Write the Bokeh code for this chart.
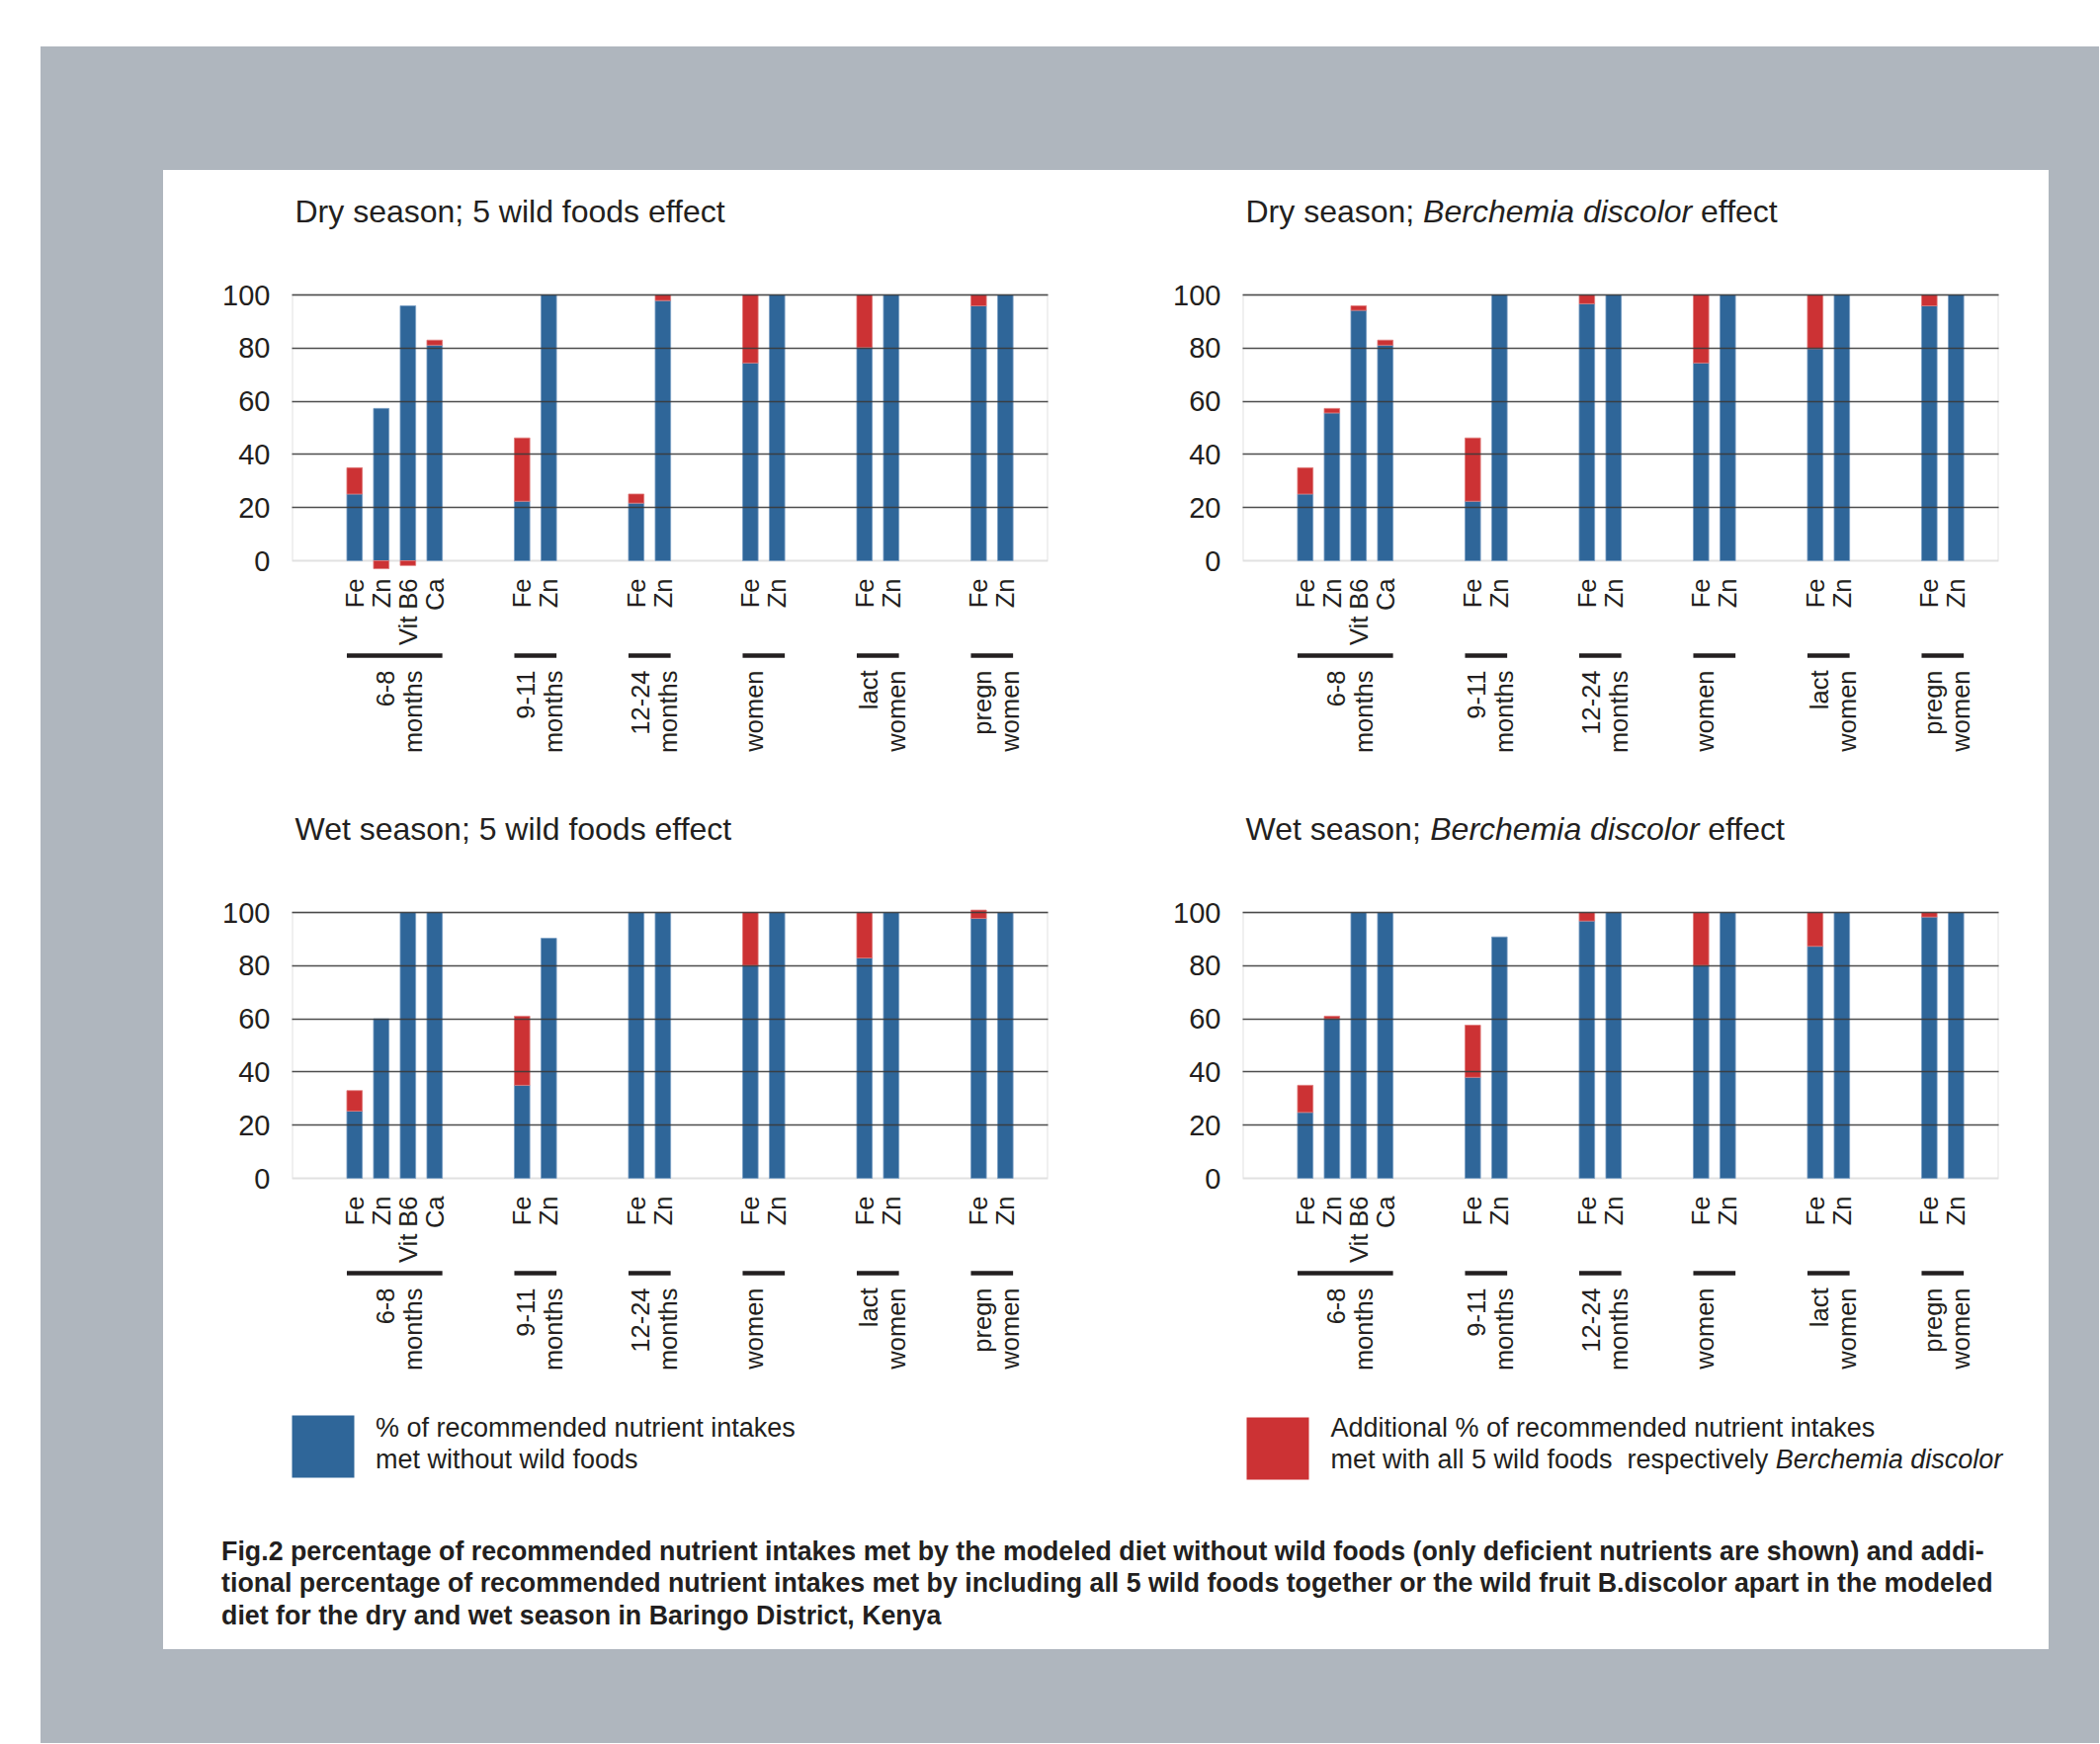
import math
from bokeh.plotting import figure
from bokeh.models import Range1d, FixedTicker, BoxAnnotation, Spacer
from bokeh.layouts import column, row
from bokeh.core.properties import value
from bokeh.embed import file_html
from bokeh.resources import INLINE

# ---------------- data ----------------
groups = ["6-8 months", "9-11 months", "12-24 months", "women", "lact women", "pregn women"]
nutrients = [["Fe", "Zn", "Vit B6", "Ca"], ["Fe", "Zn"], ["Fe", "Zn"],
             ["Fe", "Zn"], ["Fe", "Zn"], ["Fe", "Zn"]]

# % of recommended nutrient intakes met without wild foods (blue)
dry_base_5wild = [25.1, 57.3, 95.9, 81.1, 22.4, 100, 21.7, 97.9, 74.4, 100, 80.2, 100, 95.9, 100]
dry_base_bd    = [25.1, 55.6, 94.2, 81.1, 22.4, 100, 96.7, 100, 74.4, 100, 79.8, 100, 95.9, 100]
wet_base_5wild = [25.3, 60.0, 100, 100, 35.0, 90.3, 100, 100, 80.1, 100, 82.9, 100, 97.8, 100]
wet_base_bd    = [24.8, 60.0, 100, 100, 38.0, 90.8, 96.8, 100, 80.1, 100, 87.3, 100, 98.3, 100]

# additional % met with wild foods (red)
dry_add_5wild = [9.9, -3.0, -1.8, 1.9, 23.8, 0, 3.4, 2.1, 25.6, 0, 19.8, 0, 4.1, 0]
dry_add_bd    = [9.9, 1.7, 1.7, 1.9, 23.8, 0, 3.3, 0, 25.6, 0, 20.2, 0, 4.1, 0]
wet_add_5wild = [7.7, 0, 0, 0, 26.0, 0, 0, 0, 19.9, 0, 17.1, 0, 3.1, 0]
wet_add_bd    = [10.2, 1.0, 0, 0, 19.6, 0, 3.2, 0, 19.9, 0, 12.7, 0, 1.7, 0]

y_ticks = [0, 20, 40, 60, 80, 100]
grid_ticks = [20, 40, 60, 80, 100]

title_dry_5wild = [("Dry season; 5 wild foods effect", "normal")]
title_dry_bd = [("Dry season; ", "normal"), ("Berchemia discolor", "italic"), (" effect", "normal")]
title_wet_5wild = [("Wet season; 5 wild foods effect", "normal")]
title_wet_bd = [("Wet season; ", "normal"), ("Berchemia discolor", "italic"), (" effect", "normal")]

legend_base_lines = [[("% of recommended nutrient intakes", "normal")],
                     [("met without wild foods", "normal")]]
legend_add_lines = [[("Additional % of recommended nutrient intakes", "normal")],
                    [("met with all 5 wild foods", "normal"), ("  respectively ", "normal"),
                     ("Berchemia discolor", "italic")]]
caption_lines = [
    "Fig.2 percentage of recommended nutrient intakes met by the modeled diet without wild foods (only deficient nutrients are shown) and addi-",
    "tional percentage of recommended nutrient intakes met by including all 5 wild foods together or the wild fruit B.discolor apart in the modeled",
    "diet for the dry and wet season in Baringo District, Kenya",
]

# ---------------- style ----------------
FONT = "Liberation Sans"
TXT = "#231f20"
BLUE = "#2f6699"
RED = "#cc3234"
GREY = "#afb6be"

HELV = {' ': 278, '!': 278, '%': 889, '(': 333, ')': 333, ',': 278, '-': 333, '.': 278, ';': 278,
        'A': 667, 'B': 667, 'C': 722, 'D': 722, 'E': 667, 'F': 611, 'K': 667, 'W': 944,
        'a': 556, 'b': 556, 'c': 500, 'd': 556, 'e': 556, 'f': 278, 'g': 556, 'h': 556,
        'i': 222, 'j': 222, 'k': 500, 'l': 222, 'm': 833, 'n': 556, 'o': 556, 'p': 556,
        'q': 556, 'r': 333, 's': 500, 't': 278, 'u': 556, 'v': 500, 'w': 722, 'x': 500,
        'y': 500, 'z': 500}


def text_w(s, size):
    return sum(HELV.get(c, 556) for c in s) / 1000.0 * size


# layout constants (pixels)
PPU = 2.69            # px per percentage point
UNIT = 27.0           # px between bars of a group
GAP = 88.5 / UNIT     # step between groups (in bar units)
FRAME_W = 765
FIRST_PX = 63.3
BAR_W = 0.58
NUT_OFF = 18
RULE_OFF = 96
GRP_OFF = 111
LINE_DX = (-9.5, 18.5)
TITLE_DY = 85
TITLE_DX = 3
TITLE_SIZE = 32
LABEL_SIZE = 25.5


def bar_positions():
    xs, spans = [], []
    cur = -GAP
    for nuts in nutrients:
        cur += GAP
        first = cur
        for k in range(len(nuts)):
            if k:
                cur += 1
            xs.append(cur)
        spans.append((first, cur))
    return xs, spans


XS, SPANS = bar_positions()
FLAT_NUT = [n for g in nutrients for n in g]


def draw_pieces(p, x, y, parts, size, x_off=0.0, y_off=0.0):
    off = x_off
    for txt, style in parts:
        lead = len(txt) - len(txt.lstrip(" "))
        p.text(x=[x], y=[y], text=[txt.strip(" ")], x_offset=off + text_w(txt[:lead], size),
               y_offset=y_off, text_font=value(FONT), text_font_size=value(f"{size}px"),
               text_font_style=value(style), text_color=TXT,
               text_align="left", text_baseline="alphabetic")
        off += text_w(txt, size)


def make_chart(title_parts, base, add, fig_w, fig_h, border_left, top100):
    x0 = -FIRST_PX / UNIT
    x1 = x0 + FRAME_W / UNIT
    y1 = 100 + top100 / PPU
    y0 = 100 - (fig_h - top100) / PPU
    p = figure(width=fig_w, height=fig_h, x_range=Range1d(x0, x1), y_range=Range1d(y0, y1),
               output_backend="svg", toolbar_location=None, x_axis_location=None,
               min_border_left=border_left, min_border_right=fig_w - border_left - FRAME_W,
               min_border_top=0, min_border_bottom=0, outline_line_color=None,
               border_fill_color="white", background_fill_color="white")
    p.title.visible = False

    ax = p.yaxis[0]
    ax.ticker = FixedTicker(ticks=y_ticks)
    ax.axis_line_color = None
    ax.major_tick_line_color = None
    ax.minor_tick_line_color = None
    ax.major_tick_out = 0
    ax.major_tick_in = 0
    ax.major_label_standoff = 22
    ax.major_label_text_font = FONT
    ax.major_label_text_font_size = "29px"
    ax.major_label_text_color = TXT

    p.xgrid.visible = False
    p.ygrid.ticker = FixedTicker(ticks=grid_ticks)
    p.ygrid.grid_line_color = "#3a3a3a"
    p.ygrid.grid_line_width = 1.6
    p.ygrid.grid_line_alpha = 0.9
    p.ygrid.level = "annotation"

    box = BoxAnnotation(bottom=0, top=100, fill_color=None, fill_alpha=0,
                        line_color="#9a9a9a", line_width=2, level="underlay")
    p.add_layout(box)

    p.vbar(x=XS, width=BAR_W, bottom=0, top=base, fill_color=BLUE,
           line_color="#7b9fc4", line_width=1, line_alpha=0.8)

    rx, rb, rt = [], [], []
    for x, b, a in zip(XS, base, add):
        if a > 0:
            rx.append(x); rb.append(b); rt.append(b + a)
        elif a < 0:
            rx.append(x); rb.append(a); rt.append(0)
    p.vbar(x=rx, width=BAR_W, bottom=rb, top=rt, fill_color=RED,
           line_color="#e07a7a", line_width=1, line_alpha=0.8)

    # nutrient labels
    p.text(x=XS, y=[0] * len(XS), text=FLAT_NUT, angle=math.pi / 2, y_offset=NUT_OFF,
           text_align="right", text_baseline="middle", text_font=value(FONT),
           text_font_size=value(f"{LABEL_SIZE}px"), text_color=TXT)

    # group rules
    p.segment(x0=[a - BAR_W / 2 for a, b in SPANS], x1=[b + BAR_W / 2 for a, b in SPANS],
              y0=[-RULE_OFF / PPU] * len(SPANS), y1=[-RULE_OFF / PPU] * len(SPANS),
              line_color=TXT, line_width=4.5, line_cap="butt")

    # group labels (two lines)
    centers = [(a + b) / 2 for a, b in SPANS]
    for li in range(2):
        txts = []
        for g in groups:
            parts = g.split(" ", 1)
            txts.append(parts[li] if li < len(parts) else "")
        p.text(x=centers, y=[0] * len(centers), text=txts, angle=math.pi / 2,
               x_offset=LINE_DX[li], y_offset=GRP_OFF,
               text_align="right", text_baseline="middle", text_font=value(FONT),
               text_font_size=value(f"{LABEL_SIZE}px"), text_color=TXT)

    # title
    draw_pieces(p, x0, 100, title_parts, TITLE_SIZE, x_off=TITLE_DX, y_off=-TITLE_DY)
    return p


LEFT_W, RIGHT_W = 995, 913
TOP_H, BOT_H = 618, 620

fTL = make_chart(title_dry_5wild, dry_base_5wild, dry_add_5wild, LEFT_W, TOP_H, 130, 126)
fTR = make_chart(title_dry_bd, dry_base_bd, dry_add_bd, RIGHT_W, TOP_H, 97, 126)
fBL = make_chart(title_wet_5wild, wet_base_5wild, wet_add_5wild, LEFT_W, BOT_H, 130, 133)
fBR = make_chart(title_wet_bd, wet_base_bd, wet_add_bd, RIGHT_W, BOT_H, 97, 133)

# legend + caption
LEG_W, LEG_H = LEFT_W + RIGHT_W, 259
leg = figure(width=LEG_W, height=LEG_H, x_range=Range1d(0, LEG_W), y_range=Range1d(LEG_H, 0),
             output_backend="svg", toolbar_location=None, x_axis_location=None,
             y_axis_location=None, min_border=0, outline_line_color=None,
             border_fill_color="white", background_fill_color="white")
leg.title.visible = False
leg.xgrid.visible = False
leg.ygrid.visible = False

SW = 63
leg.quad(left=[130, 1096], right=[130 + SW, 1096 + SW], top=[22, 24], bottom=[22 + SW, 24 + SW],
         fill_color=[BLUE, RED], line_color=None)

LEG_SIZE = 27
LEG_Y0 = 34
for i, parts in enumerate(legend_base_lines):
    draw_pieces(leg, 214.5, LEG_Y0 + i * 32.5, parts, LEG_SIZE)
for i, parts in enumerate(legend_add_lines):
    draw_pieces(leg, 1181, LEG_Y0 + i * 32.5, parts, LEG_SIZE)

CAP_Y0 = 159
for i, line in enumerate(caption_lines):
    leg.text(x=[58.6], y=[CAP_Y0 + i * 32.5], text=[line], text_font=value(FONT),
             text_font_size=value("26.75px"), text_font_style=value("bold"), text_color=TXT,
             text_align="left", text_baseline="alphabetic")

white = {"background-color": "white"}
panel = column(row(fTL, fTR, styles=white), row(fBL, fBR, styles=white), leg, styles=white)

gstyle = {"background-color": GREY}
PANEL_W, PANEL_H = LEFT_W + RIGHT_W, TOP_H + BOT_H + LEG_H
G_LEFT, G_TOP, G_RIGHT, G_BOT = 124, 125, 51, 95
G_W = G_LEFT + PANEL_W + G_RIGHT
grey_box = column(
    Spacer(width=G_W, height=G_TOP, styles=gstyle),
    row(Spacer(width=G_LEFT, height=PANEL_H, styles=gstyle), panel,
        Spacer(width=G_RIGHT, height=PANEL_H, styles=gstyle)),
    Spacer(width=G_W, height=G_BOT, styles=gstyle),
)
OUT_LEFT, OUT_TOP = 41, 47
root = column(Spacer(width=OUT_LEFT + G_W, height=OUT_TOP),
              row(Spacer(width=OUT_LEFT, height=G_TOP + PANEL_H + G_BOT), grey_box))

open("out.html", "w").write(file_html(root, INLINE))
